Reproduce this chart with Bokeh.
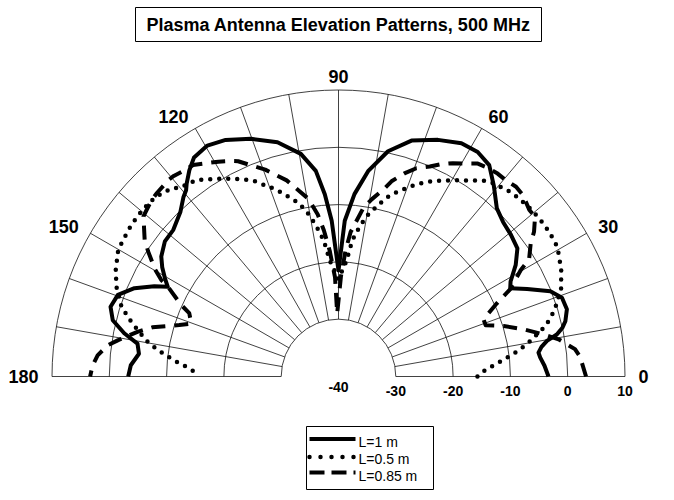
import numpy as np
from bokeh.plotting import figure
from bokeh.models import Range1d
from bokeh.embed import file_html
from bokeh.resources import INLINE
from bokeh.core.properties import value

# ---- chart text and scales ----
title_text = "Plasma Antenna Elevation Patterns, 500 MHz"
db_floor = -40                      # pattern origin
ring_db = [-30, -20, -10, 0, 10]    # grid circles
radial_tick_db = [-40, -30, -20, -10, 0, 10]
angle_tick_deg = [0, 30, 60, 90, 120, 150, 180]
spoke_deg = list(range(0, 181, 10))

# ---- measured elevation patterns (angle in degrees, gain in dB) ----
l100_deg = [0, 3, 5.4, 6.8, 8.3, 9.7, 10.9, 12.3, 13.7, 16.4, 19.4, 21.9, 24.9, 27.2,
            28.9, 32.2, 35.6, 39.4, 43.2, 46.7, 50.8, 54.5, 58.2, 62.2, 67.2, 72.8,
            77.6, 81.8, 85, 87.7, 90, 92.5, 94.3, 96.3, 99.6, 104.6, 110.2, 115.5,
            119.6, 123.4, 125.9, 128.2, 129.3, 130.8, 133.8, 138.4, 142.1, 145.9,
            148.2, 150.5, 152.3, 153.9, 156.6, 159.7, 163, 166, 168.6, 170.7, 173.5,
            176.9, 180]
l100_db = [-3.35, -4.0, -4.65, -4.85, -4.2, -3.1, -1.2, 0.0, 0.75, 1.55, 1.35, -0.15,
           -3.7, -6.3, -5.7, -3.45, -1.6, -1.05, -0.6, 0.3, 2.9, 5.3, 6.1, 6.0, 4.8,
           3.1, 0.25, -3.8, -8.05, -12.8, -21.5, -12.8, -8.1, -3.9, -0.6, 2.25, 4.2,
           5.75, 6.35, 5.8, 4.4, 2.85, 2.0, 1.4, -0.15, -1.45, -1.6, -2.65, -3.8, -5.2,
           -6.35, -4.2, -1.2, 1.05, 1.6, 0.6, -1.85, -4.45, -4.95, -3.7, -3.3]

l050_deg = [0, 1.7, 3.7, 5.7, 7.7, 9.7, 11.8, 13.7, 15.6, 17.6, 21.5, 25.6, 29.6, 31.5,
            34.5, 37.7, 41, 44, 46.4, 48.5, 50.3, 52.2, 53.8, 55.7, 57.8, 59.6, 61.6,
            63.6, 65.6, 67.7, 69.8, 71.8, 73.9, 75.7, 77.6, 79.9, 82, 84.2, 86, 90,
            94.3, 96.2, 98.3, 100.1, 101.9, 104, 106.1, 108.1, 109.8, 111.9, 113.6,
            115.7, 117.8, 119.9, 121.8, 124, 125.6, 128, 130, 131.4, 134, 137.1, 140.5,
            143.8, 147.6, 150.1, 154.4, 158, 161.8, 164.2, 167.4, 170.1, 172.1, 174.4,
            175.9, 178.6, 180]
l050_db = [-15.75, -14.95, -13.25, -11.15, -8.85, -6.65, -4.75, -2.85, -1.5, -0.3, 1.75,
           3.1, 4.1, 4.45, 4.6, 4.6, 4.5, 4.3, 4.1, 3.75, 3.35, 3.05, 2.4, 1.4, 0.4,
           -0.25, -1.15, -1.85, -2.75, -3.7, -4.8, -5.95, -6.95, -8.3, -9.8, -11.5,
           -13.6, -16.1, -19.7, -23, -19.7, -16.1, -13.6, -11.5, -9.85, -8.3, -7.1,
           -5.85, -4.9, -3.75, -2.65, -1.85, -1.0, -0.2, 0.6, 1.45, 2.25, 2.7, 3.0, 3.8,
           4.45, 4.85, 4.85, 4.8, 4.5, 4.35, 3.1, 1.8, -0.05, -1.75, -4.35, -6.45, -8.7,
           -11.15, -12.95, -15.25, -15.65]

l085_deg = [0, 4.7, 6.6, 9.6, 11.6, 14.3, 17, 19.2, 21.5, 24.6, 27, 30.3, 31.5, 34.7,
            36.5, 39.1, 41.1, 44.5, 46.9, 49.6, 51.9, 54.9, 56.8, 59.1, 61.8, 64.2,
            66.5, 69.5, 71.9, 74.8, 76.5, 79.4, 81.6, 85.2, 86.8, 88.6, 91.2, 92, 94,
            95.7, 97.3, 99.6, 102.1, 104.8, 107.1, 109.5, 112, 115, 116.7, 119.2, 122.1,
            124.5, 126.7, 129.4, 130.8, 134.7, 136.6, 139, 140.6, 144.8, 146.7, 149.8,
            151.4, 152.2, 155.5, 157, 160.2, 162.1, 165.2, 167.5, 170.7, 172.3, 175,
            177.4, 180]
l085_db = [3.2, 2.3, 1.55, -1.05, -3.45, -6.65, -9.85, -12.8, -12.8, -9.8, -6.3, -3.15,
           -1.0, 0.8, 2.45, 4.2, 4.2, 5.15, 5.35, 5.0, 5.0, 4.7, 4.4, 3.3, 2.25, 1.15,
           -0.05, -1.2, -2.65, -4.7, -6.45, -8.55, -10.25, -14.7, -18, -22.5, -29,
           -22.7, -18, -14.4, -11.5, -8.55, -6.8, -4.6, -3.25, -1.7, -0.4, 1.45, 2.1,
           2.95, 3.9, 4.8, 4.9, 5.3, 5.35, 5.05, 4.85, 4.35, 4.05, 1.4, -0.25, -3.0,
           -4.75, -6.3, -9.8, -11.7, -12.7, -10.8, -6.4, -4.05, -0.95, 0.65, 2.2, 2.95,
           3.35]

series_labels = ["L=1 m", "L=0.5 m", "L=0.85 m"]

# ---- page geometry ----
W, H = 674, 500
CX, CY = 338, 376                          # pixel position of the pattern origin
PX_PER_DB = 286.5 / (ring_db[-1] - db_floor)

FONT = value("Liberation Sans")


def polar(deg, db):
    r = np.asarray(db, dtype=float) - db_floor
    th = np.radians(np.asarray(deg, dtype=float))
    return r * np.cos(th), r * np.sin(th)


def px(x, y):
    """Convert a page pixel position (from top-left) to plot units."""
    return (x - CX) / PX_PER_DB, (CY - y) / PX_PER_DB


p = figure(width=W, height=H, output_backend="svg", toolbar_location=None,
           x_range=Range1d(-CX / PX_PER_DB, (W - CX) / PX_PER_DB),
           y_range=Range1d(-(H - CY) / PX_PER_DB, CY / PX_PER_DB),
           x_axis_type=None, y_axis_type=None, min_border=0,
           outline_line_color=None, background_fill_color="white",
           border_fill_color="white")

# ---- polar grid ----
ring_r = [d - db_floor for d in ring_db]
p.arc(x=0, y=0, radius=ring_r, start_angle=0, end_angle=np.pi,
      line_color="#111111", line_width=0.8)
sx0, sy0 = polar(spoke_deg, [ring_db[0]] * len(spoke_deg))
sx1, sy1 = polar(spoke_deg, [ring_db[-1]] * len(spoke_deg))
p.segment(x0=sx0, y0=sy0, x1=sx1, y1=sy1, line_color="#111111", line_width=0.8)

# ---- patterns ----
x, y = polar(l100_deg, l100_db)
p.line(x, y, line_color="black", line_width=4, line_join="round")
x, y = polar(l050_deg, l050_db)
p.line(x, y, line_color="black", line_width=4.5, line_dash="0 9", line_cap="round")
x, y = polar(l085_deg, l085_db)
p.line(x, y, line_color="black", line_width=4, line_dash="14 9", line_join="round")

# ---- angle labels ----
label_r_db = db_floor + 300 / PX_PER_DB
for align, sel in (("left", lambda a: a < 90), ("center", lambda a: a == 90),
                   ("right", lambda a: a > 90)):
    angs = [a for a in angle_tick_deg if sel(a)]
    lx, ly = polar(angs, [label_r_db] * len(angs))
    p.text(x=lx, y=ly, text=[str(a) for a in angs], text_align=align,
           text_baseline="middle", text_font=FONT, text_font_style="bold",
           text_font_size="18px", text_color="black")

# ---- radial (dB) labels under the baseline ----
rx, _ = polar([0] * len(radial_tick_db), radial_tick_db)
ry = [px(0, 386)[1] if d == db_floor else px(0, 390)[1] for d in radial_tick_db]
p.text(x=rx, y=ry, text=[str(d) for d in radial_tick_db], text_align="center",
       text_baseline="middle", text_font=FONT, text_font_style="bold",
       text_font_size="14px", text_color="black")

# ---- boxed title ----
l, t = px(135, 7)
r, b = px(541, 41)
p.quad(left=l, right=r, top=t, bottom=b, fill_color="white",
       line_color="black", line_width=1)
tx, ty = px(338, 24.5)
p.text(x=[tx], y=[ty], text=[title_text], text_align="center",
       text_baseline="middle", text_font=FONT, text_font_style="bold",
       text_font_size="18px", text_color="black")

# ---- legend ----
l, t = px(306, 426)
r, b = px(433, 489)
p.quad(left=l, right=r, top=t, bottom=b, fill_color="white",
       line_color="black", line_width=1)
styles = [dict(line_width=4),
          dict(line_width=4.5, line_dash="0 11", line_cap="round"),
          dict(line_width=4, line_dash="15 7")]
sample_y = [438.5, 456.5, 472]
text_y = [441, 458, 475]
for lab, st, sy, ty in zip(series_labels, styles, sample_y, text_y):
    x0, yy = px(309, sy)
    x1, _ = px(355, sy)
    p.line([x0, x1], [yy, yy], line_color="black", **st)
    lx, ly = px(358, ty)
    p.text(x=[lx], y=[ly], text=[lab], text_align="left", text_baseline="middle",
           text_font=FONT, text_font_size="14px", text_color="black")

open("out.html", "w").write(file_html(p, INLINE))
